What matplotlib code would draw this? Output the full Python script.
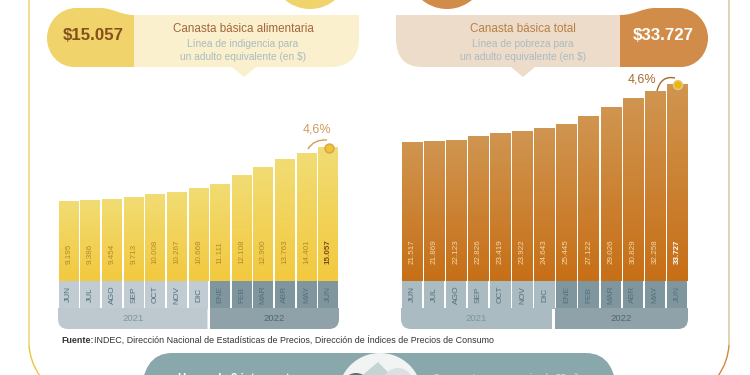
import numpy as np
import matplotlib
matplotlib.use("Agg")
import matplotlib.pyplot as plt
from matplotlib.colors import LinearSegmentedColormap
from matplotlib.patches import Circle, Ellipse, PathPatch, Polygon, Rectangle
from matplotlib.path import Path

months = ["JUN", "JUL", "AGO", "SEP", "OCT", "NOV", "DIC", "ENE", "FEB", "MAR", "ABR", "MAY", "JUN"]
cba = [9195, 9386, 9454, 9713, 10008, 10267, 10668, 11111, 12108, 12900, 13763, 14401, 15057]
cbt = [21517, 21869, 22123, 22826, 23419, 23922, 24643, 25445, 27122, 29026, 30829, 32258, 33727]
years = ["2021", "2022"]

plt.rcParams["font.family"] = ["Liberation Sans", "DejaVu Sans"]

fig = plt.figure(figsize=(7.5, 3.75), dpi=100)
# overlay in picture pixels, sits above the bar axes
bg = fig.add_axes([0, 0, 1, 1], zorder=5)
bg.set_xlim(0, 750)
bg.set_ylim(375, 0)
bg.axis("off")

M, L, C, C4, Z = Path.MOVETO, Path.LINETO, Path.CURVE3, Path.CURVE4, Path.CLOSEPOLY


def shape(verts, codes, color, **kw):
    p = PathPatch(Path(verts, codes), facecolor=color, edgecolor="none", lw=0, **kw)
    bg.add_patch(p)
    return p


def curve(verts, color, lw=1.0):
    codes = [M] + [C] * (len(verts) - 1)
    bg.add_patch(PathPatch(Path(verts, codes), facecolor="none", edgecolor=color, lw=lw))


def fmt(v):
    return f"{v:,}".replace(",", ".")


def bars(x0, x1, sp0, sp1, vals, base, scale, top_col, low_col, txt_col, last_col, cell_l, cell_d, strip_l, strip_d):
    ax = fig.add_axes([x0 / 750, (375 - 281) / 375, (x1 - x0) / 750, 281 / 375], zorder=2)
    ax.axis("off")
    cmap = LinearSegmentedColormap.from_list("b", [low_col, top_col])
    grad = np.linspace(0, 1, 64).reshape(-1, 1)
    for i, v in enumerate(vals):
        ax.imshow(grad, extent=[i - 0.46, i + 0.46, base, v], origin="lower", aspect="auto", cmap=cmap, zorder=2)
        ax.text(i, base + 17 * scale, fmt(v), rotation=90, ha="center", va="bottom", fontsize=5.8,
                color=last_col if i == 12 else txt_col, fontweight="bold" if i == 12 else "normal", zorder=3)
    ax.set_xlim(-0.5, 12.5)
    ax.set_ylim(base, base + 281 * scale)
    w = (x1 - x0) / 13
    for i, m in enumerate(months):
        cx = x0 + (i + 0.5) * w
        bg.add_patch(Rectangle((cx - w * 0.46, 281), w * 0.92, 28, color=cell_l if i < 7 else cell_d, lw=0))
        bg.text(cx, 294.5, m, rotation=90, ha="center", va="center", fontsize=6, color="#55707c")
    # year strips, only the outer bottom corners are round
    r = 10
    shape([(x0, 308), (sp0, 308), (sp0, 329), (x0 + r, 329), (x0, 329), (x0, 329 - r), (x0, 308)],
          [M, L, L, L, C, C, Z], strip_l)
    shape([(sp1, 308), (x1, 308), (x1, 329 - r), (x1, 329), (x1 - r, 329), (sp1, 329), (sp1, 308)],
          [M, L, L, C, C, L, Z], strip_d)
    bg.text((x0 + sp0) / 2, 318.5, years[0], ha="center", va="center", fontsize=6.8, color="#7f959e")
    bg.text((sp1 + x1) / 2, 318.5, years[1], ha="center", va="center", fontsize=6.8, color="#4f6670")


bars(58, 339, 207.5, 210, cba, 620, 108.5, "#f1dc73", "#f3c93f", "#b08a2c", "#7b4a17",
     "#c0ccd2", "#7f969f", "#bdc9ce", "#8fa2aa")
bars(401, 688, 552, 555, cbt, -7555, 210.6, "#d09550", "#c76f17", "#f2d9a8", "#ffffff",
     "#aabbc1", "#7f969f", "#aabbc1", "#8fa2aa")

# page frame
curve([(29, 0), (29, 200), (29, 345)], "#edcf63")
curve([(29, 345), (30, 362), (40, 376)], "#edc53a")
curve([(729, 0), (729, 200), (729, 345)], "#d9c09c")
curve([(729, 345), (728, 362), (718, 376)], "#cf8a3e")

# header left
shape([(134, 15), (359, 15), (359, 40), (358, 67), (330, 67), (134, 67), (134, 15)], [M, L, L, C, C, L, Z], "#faf0cd")
bg.add_patch(Polygon([[232, 67], [244, 77], [256, 67]], color="#faf0cd", lw=0))
shape([(134, 15), (134, 67), (74, 67), (59, 67), (47, 54), (47, 38), (47, 22), (60, 8), (76, 8), (100, 8),
       (113, 8), (120, 15), (134, 15), (134, 15)],
      [M, L, L, C4, C4, C4, C4, C4, C4, L, C4, C4, C4, Z], "#f0d36a")
bg.add_patch(Circle((310, -30), 39, color="#f0d36a", lw=0))
bg.text(93, 35, "$15.057", ha="center", va="center", fontsize=12.2, fontweight="bold", color="#84501c")
bg.text(243, 28.5, "Canasta básica alimentaria", ha="center", va="center", fontsize=8.4, color="#a2673a")
bg.text(243, 44, "Línea de indigencia para", ha="center", va="center", fontsize=7.3, color="#a9bcc0")
bg.text(243, 56.5, "un adulto equivalente (en $)", ha="center", va="center", fontsize=7.3, color="#a9bcc0")

# header right
shape([(620, 15), (620, 67), (422, 67), (397, 67), (396, 40), (396, 15), (620, 15)], [M, L, L, C, C, L, Z], "#eedccb")
bg.add_patch(Polygon([[511, 67], [523, 77], [535, 67]], color="#eedccb", lw=0))
shape([(620, 15), (620, 67), (681, 67), (696, 67), (708, 54), (708, 38), (708, 22), (695, 8), (679, 8), (655, 8),
       (642, 8), (635, 15), (620, 15), (620, 15)],
      [M, L, L, C4, C4, C4, C4, C4, C4, L, C4, C4, C4, Z], "#d08c48")
bg.add_patch(Circle((447, -30), 39, color="#d08c48", lw=0))
bg.text(663, 35, "$33.727", ha="center", va="center", fontsize=12.2, fontweight="bold", color="white")
bg.text(523, 28.5, "Canasta básica total", ha="center", va="center", fontsize=8.4, color="#b87f45")
bg.text(523, 44, "Línea de pobreza para", ha="center", va="center", fontsize=7.3, color="#a9bcc0")
bg.text(523, 56.5, "un adulto equivalente (en $)", ha="center", va="center", fontsize=7.3, color="#a9bcc0")

# 4,6% marks
bg.text(317, 129, "4,6%", ha="center", va="center", fontsize=9, color="#d29a5c")
curve([(308, 149), (314, 139), (327, 140)], "#d29a5c")
bg.add_patch(Circle((329.5, 148.5), 4.5, facecolor="#ecc533", edgecolor="#d9a24e", lw=1))
bg.text(642, 80, "4,6%", ha="center", va="center", fontsize=9, color="#a9692c")
curve([(657, 91), (661, 75), (675, 78)], "#a9692c")
bg.add_patch(Circle((678, 85), 4.5, facecolor="#eab70f", edgecolor="#e7c98f", lw=1))

# source line
bg.text(61, 343, "Fuente:", ha="left", va="baseline", fontsize=6.4, fontweight="bold", color="#333333")
bg.text(94, 342.5, "INDEC, Dirección Nacional de Estadísticas de Precios, Dirección de Índices de Precios de Consumo",
        ha="left", va="baseline", fontsize=6.4, color="#333333")

# bottom panel, cut by the page edge
shape([(141, 400), (141, 353), (172, 353), (586, 353), (617, 353), (617, 400), (141, 400)], [M, C, C, L, C, C, Z], "#89a8ab")
disc = Circle((380, 395), 42, facecolor="#f2f4f4", edgecolor="none", lw=0)
bg.add_patch(disc)
for part in [Polygon([[345, 390], [378, 362], [410, 395]], color="#c2d4d4", lw=0),
             Ellipse((398, 388), 34, 40, color="#dcdfe3", lw=0),
             Ellipse((356, 394), 34, 42, color="#5f6f78", lw=0)]:
    bg.add_patch(part)
    part.set_clip_path(disc)
bg.text(240, 379, "Hogar de 2 integrantes", ha="center", va="center", fontsize=8.3, fontweight="bold", color="white")
bg.text(511, 377, "Compuesto por una mujer de 35 años", ha="center", va="center", fontsize=6.7, color="#d6e2e3")

fig.savefig("out.png", dpi=100)
